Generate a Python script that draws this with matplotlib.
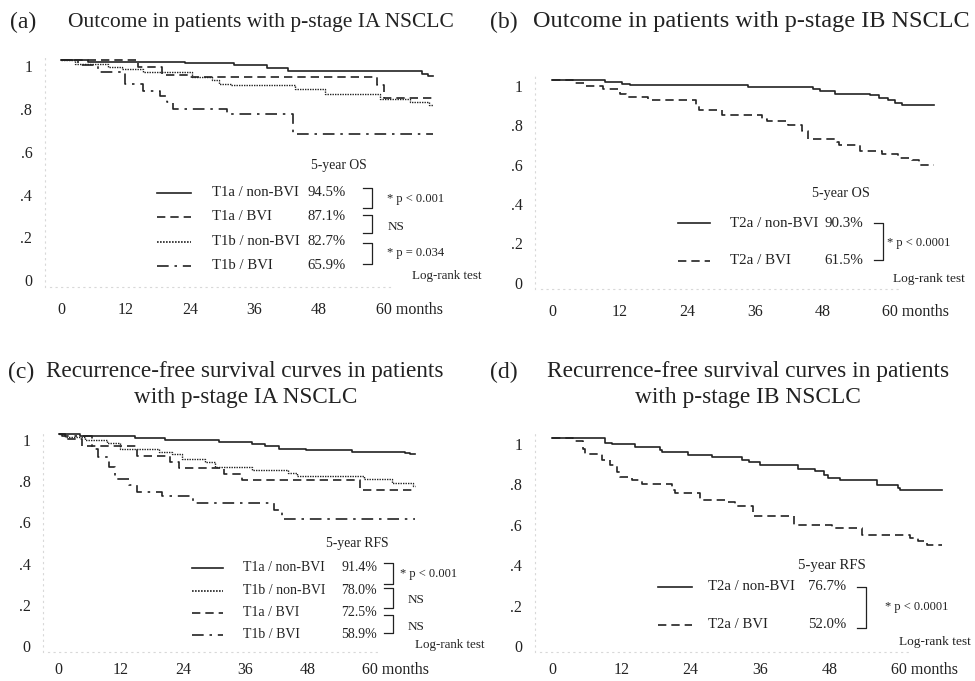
import matplotlib.pyplot as plt
from matplotlib.lines import Line2D
from matplotlib.transforms import Affine2D

plt.rcParams['font.family'] = ['Liberation Serif', 'DejaVu Serif']

# ---- data (months, survival proportion) ----
# (a) overall survival, p-stage IA
a_t1a_nonbvi_t = [0, 5.1, 23.1, 32.1, 38.3, 42.3, 67.1, 68.2]
a_t1a_nonbvi_s = [1.0, 0.993, 0.988, 0.977, 0.965, 0.952, 0.938, 0.926]
a_t1a_bvi_t = [0, 14.4, 18.8, 23.7, 58.7, 60.0]
a_t1a_bvi_s = [1.0, 0.970, 0.934, 0.923, 0.884, 0.826]
a_t1b_nonbvi_t = [0, 2.6, 8.8, 11.3, 15.3, 24.3, 28.0, 29.3, 31.7, 43.5, 49.1, 59.3, 64.9, 68.5]
a_t1b_nonbvi_s = [1.0, 0.985, 0.970, 0.962, 0.946, 0.923, 0.907, 0.891, 0.884, 0.868, 0.845, 0.821, 0.806, 0.790]
a_t1b_bvi_t = [0, 3.2, 6.9, 11.9, 15.3, 18.4, 19.7, 20.9, 30.8, 43.2]
a_t1b_bvi_s = [1.0, 0.977, 0.946, 0.888, 0.857, 0.836, 0.806, 0.774, 0.748, 0.657]
a_end = 69.2

# (b) overall survival, p-stage IB
b_t2a_nonbvi_t = [0, 9.4, 12.4, 13.8, 34.8, 46.3, 47.5, 50.2, 56.4, 57.9, 59.6, 60.8, 62.0]
b_t2a_nonbvi_s = [1.0, 0.990, 0.978, 0.973, 0.964, 0.956, 0.943, 0.930, 0.922, 0.908, 0.897, 0.885, 0.874]
b_t2a_bvi_t = [0, 3.8, 5.9, 9.1, 12.1, 13.2, 17.1, 25.6, 26.0, 30.1, 37.2, 38.1, 41.9, 44.3,
               45.4, 50.5, 50.8, 54.6, 58.5, 61.4, 63.8, 65.0]
b_t2a_bvi_s = [1.0, 0.985, 0.970, 0.953, 0.930, 0.912, 0.897, 0.871, 0.846, 0.824, 0.803, 0.792,
               0.770, 0.739, 0.702, 0.685, 0.668, 0.638, 0.626, 0.603, 0.592, 0.569]
b_end = 67.8

# (c) recurrence-free survival, p-stage IA
c_t1a_nonbvi_t = [0, 4.2, 14.8, 20.6, 30.9, 37.3, 39.8, 42.4, 47.6, 56.5, 66.8, 67.8]
c_t1a_nonbvi_s = [1.0, 0.989, 0.981, 0.972, 0.961, 0.950, 0.940, 0.929, 0.921, 0.913, 0.908, 0.901]
c_t1b_nonbvi_t = [0, 1.3, 5.2, 9.3, 11.9, 19.3, 21.9, 23.8, 28.3, 30.2, 37.3, 44.3, 45.9, 58.8, 64.3, 68.4]
c_t1b_nonbvi_s = [1.0, 0.985, 0.969, 0.956, 0.929, 0.913, 0.901, 0.880, 0.864, 0.840, 0.827, 0.811,
                  0.794, 0.783, 0.762, 0.746]
c_t1a_bvi_t = [0, 1.3, 4.5, 15.1, 21.5, 23.2, 31.8, 35.4, 58.1]
c_t1a_bvi_s = [1.0, 0.977, 0.940, 0.892, 0.864, 0.837, 0.804, 0.775, 0.727]
c_t1b_bvi_t = [0, 0.7, 6.5, 7.7, 9.7, 10.9, 13.5, 15.1, 19.9, 26.0, 41.5, 43.1]
c_t1b_bvi_s = [1.0, 0.989, 0.929, 0.888, 0.840, 0.783, 0.751, 0.718, 0.697, 0.665, 0.633, 0.589]
c_end = 68.7

# (d) recurrence-free survival, p-stage IB
d_t2a_nonbvi_t = [0, 9.2, 10.3, 14.4, 18.7, 19.0, 23.6, 27.6, 32.8, 34.0, 36.0, 42.6, 45.5, 47.0,
                  47.8, 49.8, 56.2, 59.9, 60.2]
d_t2a_nonbvi_s = [1.0, 0.975, 0.969, 0.955, 0.939, 0.931, 0.917, 0.906, 0.893, 0.881, 0.865, 0.848,
                  0.835, 0.815, 0.802, 0.790, 0.769, 0.752, 0.741]
d_t2a_bvi_t = [0, 3.7, 5.4, 5.7, 8.6, 10.0, 11.2, 11.8, 13.8, 15.5, 20.7, 21.3, 25.6, 30.0, 31.7,
               34.8, 41.8, 48.4, 53.6, 62.0, 63.4, 64.8]
d_t2a_bvi_s = [1.0, 0.983, 0.947, 0.922, 0.889, 0.865, 0.832, 0.807, 0.790, 0.774, 0.741, 0.729,
               0.695, 0.683, 0.663, 0.614, 0.568, 0.554, 0.521, 0.505, 0.488, 0.472]
d_end = 67.4

month_ticks = [0, 12, 24, 36, 48]
surv_ticks = [0, 0.2, 0.4, 0.6, 0.8, 1.0]
surv_labels = ['0', '.2', '.4', '.6', '.8', '1']

INK = '#222222'
SOLID = '-'
DASHED = (0, (5, 3))
DOTTED = (0, (1, 0.8))
DASHDOT = (0, (7, 3.5, 1.5, 3.5))
XLIM = (-3, 71)
YLIM = (-0.06, 1.04)

W, H = 975, 681
fig = plt.figure(figsize=(W / 100, H / 100), dpi=100)
# figure pixel coordinates, origin top-left
px = Affine2D().scale(1 / W, -1 / H).translate(0, 1) + fig.transFigure


def make_axes(x0, sx, y1, y0, xpad=11):
    # x0: pixel of month 0, sx: pixels per month, y1 / y0: pixel rows of survival 1 and 0
    sy = y0 - y1
    left, right = x0 + XLIM[0] * sx, x0 + XLIM[1] * sx
    top, bottom = y0 - YLIM[1] * sy, y0 - YLIM[0] * sy
    ax = fig.add_axes([left / W, 1 - bottom / H, (right - left) / W, (bottom - top) / H])
    ax.set_xlim(*XLIM)
    ax.set_ylim(*YLIM)
    for side in ['top', 'right']:
        ax.spines[side].set_visible(False)
    for side in ['left', 'bottom']:
        ax.spines[side].set_color('#d8d8d8')
        ax.spines[side].set_linestyle((0, (1, 4)))
        ax.spines[side].set_linewidth(0.8)
    ax.spines['bottom'].set_bounds(-2, 62)
    ax.spines['left'].set_bounds(-0.06, 1.02)
    ax.set_xticks(month_ticks, [str(m) for m in month_ticks])
    ax.set_yticks(surv_ticks, surv_labels)
    ax.tick_params(length=0, labelsize=11.5, colors=INK)
    ax.tick_params(axis='x', pad=xpad)
    ax.tick_params(axis='y', pad=9)
    for lab in ax.get_yticklabels():
        lab.set_verticalalignment('top')
    ax.annotate('60 months', xy=(60, 0), xycoords=('data', 'axes fraction'),
                xytext=(-5.8, -xpad), textcoords='offset points',
                ha='left', va='top', fontsize=11.5, color=INK)
    ax.patch.set_alpha(0)
    return ax


def km(ax, t, s, end, ls, lw=1.2):
    ax.step(t + [end], s + [s[-1]], where='post', color=INK, linestyle=ls, linewidth=lw)


def put(x, y, s, size, ha='left', va='center'):
    fig.text(x, y, s, transform=px, fontsize=size, ha=ha, va=va, color=INK)


def key(x1, x2, y, ls, lw=1.2):
    fig.add_artist(Line2D([x1, x2], [y, y], transform=px, color=INK, linestyle=ls, linewidth=lw))


def bracket(x, ytop, ybot, stub=9):
    fig.add_artist(Line2D([x - stub, x, x, x - stub], [ytop, ytop, ybot, ybot],
                          transform=px, color=INK, linewidth=0.9))


# ---- (a) ----
ax = make_axes(61, 5.377, 60.5, 274)
km(ax, a_t1a_nonbvi_t, a_t1a_nonbvi_s, a_end, SOLID)
km(ax, a_t1a_bvi_t, a_t1a_bvi_s, a_end, DASHED)
km(ax, a_t1b_nonbvi_t, a_t1b_nonbvi_s, a_end, DOTTED, 1.0)
km(ax, a_t1b_bvi_t, a_t1b_bvi_s, a_end, DASHDOT)
put(10, 22, '(a)', 17)
put(68, 22, 'Outcome in patients with p-stage IA NSCLC', 15.5)
put(339, 165, '5-year OS', 9.8, ha='center')
rows = [('T1a / non-BVI', '94.5%', SOLID, 192.7), ('T1a / BVI', '87.1%', DASHED, 216.5),
        ('T1b / non-BVI', '82.7%', DOTTED, 241.5), ('T1b / BVI', '65.9%', DASHDOT, 265.5)]
for name, pct, ls, y in rows:
    key(157, 191, y, ls)
    put(212, y, name, 10.6)
    put(346, y, pct, 10.6, ha='right')
bracket(372, 188, 208)
bracket(372, 215, 233)
bracket(372, 243, 264)
put(387, 199, '* p < 0.001', 9)
put(388, 227, 'NS', 9.5)
put(387, 253, '* p = 0.034', 9)
put(412, 276, 'Log-rank test', 9.4)

# ---- (b) ----
ax = make_axes(552, 5.64, 80, 276.7)
km(ax, b_t2a_nonbvi_t, b_t2a_nonbvi_s, b_end, SOLID)
km(ax, b_t2a_bvi_t, b_t2a_bvi_s, b_end, DASHED)
put(490, 22, '(b)', 17)
put(533, 22, 'Outcome in patients with p-stage IB NSCLC', 17.5)
put(841, 193, '5-year OS', 10.2, ha='center')
for name, pct, ls, y in [('T2a / non-BVI', '90.3%', SOLID, 223.3), ('T2a / BVI', '61.5%', DASHED, 261)]:
    key(678, 710, y, ls)
    put(730, y, name, 10.8)
    put(863, y, pct, 10.8, ha='right')
bracket(883, 223.3, 260)
put(887, 243.3, '* p < 0.0001', 9)
put(893, 279, 'Log-rank test', 9.6)

# ---- (c) ----
ax = make_axes(58.5, 5.19, 434, 640, xpad=7)
km(ax, c_t1a_nonbvi_t, c_t1a_nonbvi_s, c_end, SOLID)
km(ax, c_t1b_nonbvi_t, c_t1b_nonbvi_s, c_end, DOTTED, 1.0)
km(ax, c_t1a_bvi_t, c_t1a_bvi_s, c_end, DASHED)
km(ax, c_t1b_bvi_t, c_t1b_bvi_s, c_end, DASHDOT)
put(8, 372, '(c)', 17)
put(245, 372, 'Recurrence-free survival curves in patients', 16.7, ha='center')
put(246, 398, 'with p-stage IA NSCLC', 16.7, ha='center')
put(357, 543, '5-year RFS', 9.8, ha='center')
rows = [('T1a / non-BVI', '91.4%', SOLID, 567.5), ('T1b / non-BVI', '78.0%', DOTTED, 590.5),
        ('T1a / BVI', '72.5%', DASHED, 613), ('T1b / BVI', '58.9%', DASHDOT, 635)]
for name, pct, ls, y in rows:
    key(192, 223, y, ls)
    put(243, y, name, 10)
    put(377, y, pct, 10, ha='right')
bracket(393, 563, 584)
bracket(393, 588, 608)
bracket(393, 615, 633)
put(400, 574, '* p < 0.001', 9)
put(408, 600, 'NS', 9.5)
put(408, 627, 'NS', 9.5)
put(415, 645, 'Log-rank test', 9.4)

# ---- (d) ----
ax = make_axes(552, 5.78, 438, 640, xpad=7)
km(ax, d_t2a_nonbvi_t, d_t2a_nonbvi_s, d_end, SOLID)
km(ax, d_t2a_bvi_t, d_t2a_bvi_s, d_end, DASHED)
put(490, 372, '(d)', 17)
put(748, 372, 'Recurrence-free survival curves in patients', 16.8, ha='center')
put(748, 398, 'with p-stage IB NSCLC', 16.8, ha='center')
put(832, 565, '5-year RFS', 10.6, ha='center')
for name, pct, ls, y in [('T2a / non-BVI', '76.7%', SOLID, 586.5), ('T2a / BVI', '52.0%', DASHED, 624.5)]:
    key(658, 692, y, ls)
    put(708, y, name, 10.6)
    put(846, y, pct, 10.6, ha='right')
bracket(866, 587.3, 628.3)
put(885, 606.7, '* p < 0.0001', 9)
put(899, 641.7, 'Log-rank test', 9.6)

fig.savefig('out.png', dpi=100, facecolor='white')
